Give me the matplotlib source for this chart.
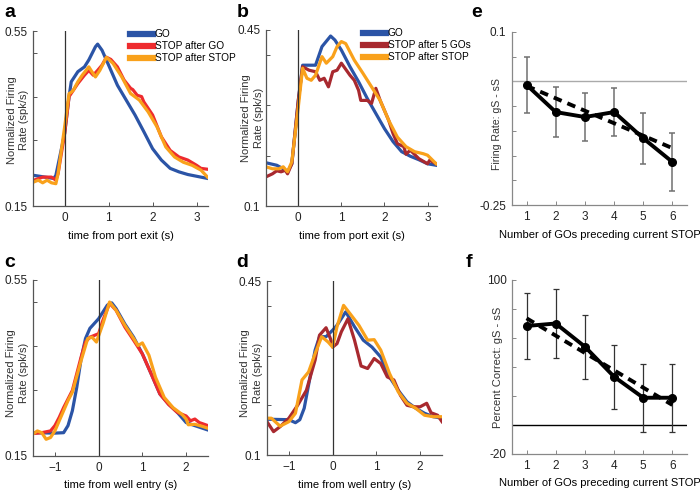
import matplotlib
matplotlib.use("Agg")
import matplotlib.pyplot as plt

plt.rcParams['font.family'] = ['Liberation Sans', 'DejaVu Sans']
plt.rcParams['font.size'] = 8

BLUE = '#2B54A6'
RED = '#EE2B2E'
DRED = '#A8292F'
ORANGE = '#F9A11B'

# ---- panel a: aligned to port exit ----
a_go_t = [-0.7, -0.25, -0.2, 0, 0.1, 0.15, 0.3, 0.45, 0.55, 0.7, 0.75, 0.85, 1.0, 1.2, 1.4, 1.6, 1.8, 2.0, 2.2, 2.4, 2.6, 2.8, 3.0, 3.25]
a_go = [0.22, 0.213, 0.22, 0.316, 0.40, 0.434, 0.457, 0.468, 0.484, 0.514, 0.52, 0.506, 0.472, 0.426, 0.392, 0.358, 0.32, 0.281, 0.255, 0.236, 0.228, 0.222, 0.218, 0.213]
a_sg_t = [-0.7, -0.5, -0.3, -0.2, -0.15, 0, 0.1, 0.2, 0.3, 0.45, 0.55, 0.65, 0.75, 0.85, 0.95, 1.05, 1.2, 1.35, 1.5, 1.55, 1.65, 1.75, 1.8, 2.0, 2.2, 2.4, 2.6, 2.8, 3.0, 3.1, 3.25]
a_sg = [0.209, 0.216, 0.216, 0.209, 0.224, 0.316, 0.40, 0.415, 0.43, 0.449, 0.46, 0.449, 0.46, 0.472, 0.49, 0.485, 0.468, 0.438, 0.419, 0.416, 0.403, 0.40, 0.388, 0.358, 0.308, 0.277, 0.262, 0.255, 0.243, 0.236, 0.234]
a_ss_t = [-0.7, -0.6, -0.5, -0.4, -0.3, -0.2, -0.15, 0, 0.1, 0.15, 0.2, 0.3, 0.4, 0.55, 0.6, 0.7, 0.8, 0.95, 1.1, 1.3, 1.5, 1.7, 1.9, 2.1, 2.3, 2.5, 2.7, 2.9, 3.1, 3.25]
a_ss = [0.205, 0.209, 0.203, 0.209, 0.203, 0.201, 0.224, 0.331, 0.407, 0.41, 0.415, 0.434, 0.449, 0.468, 0.46, 0.445, 0.46, 0.49, 0.476, 0.445, 0.407, 0.392, 0.365, 0.331, 0.285, 0.262, 0.25, 0.243, 0.232, 0.216]

# ---- panel b: aligned to port exit ----
b_go_t = [-0.75, -0.5, -0.35, -0.25, -0.15, 0, 0.1, 0.2, 0.4, 0.55, 0.75, 0.85, 1.0, 1.2, 1.4, 1.6, 1.8, 2.0, 2.2, 2.4, 2.6, 2.8, 3.0, 3.2]
b_go = [0.186, 0.181, 0.174, 0.168, 0.184, 0.31, 0.38, 0.38, 0.38, 0.417, 0.438, 0.43, 0.41, 0.377, 0.347, 0.314, 0.284, 0.254, 0.228, 0.208, 0.199, 0.192, 0.184, 0.181]
b_s5_t = [-0.75, -0.6, -0.5, -0.4, -0.3, -0.25, -0.15, 0, 0.1, 0.25, 0.4, 0.5, 0.6, 0.7, 0.8, 0.9, 1.0, 1.05, 1.2, 1.3, 1.4, 1.45, 1.6, 1.7, 1.8, 1.9, 2.0, 2.1, 2.2, 2.3, 2.45, 2.5, 2.6, 2.8, 3.0, 3.05, 3.2]
b_s5 = [0.158, 0.164, 0.17, 0.168, 0.171, 0.164, 0.184, 0.31, 0.377, 0.37, 0.367, 0.35, 0.354, 0.337, 0.367, 0.37, 0.384, 0.378, 0.36, 0.35, 0.33, 0.31, 0.31, 0.304, 0.334, 0.31, 0.29, 0.27, 0.244, 0.224, 0.218, 0.203, 0.211, 0.194, 0.184, 0.191, 0.184]
b_ss_t = [-0.75, -0.6, -0.45, -0.35, -0.25, -0.15, 0, 0.1, 0.2, 0.3, 0.4, 0.55, 0.65, 0.8, 0.9, 1.0, 1.1, 1.3, 1.5, 1.7, 1.9, 2.1, 2.3, 2.5, 2.7, 2.9, 3.0, 3.2]
b_ss = [0.178, 0.174, 0.174, 0.178, 0.168, 0.188, 0.297, 0.374, 0.354, 0.35, 0.36, 0.397, 0.384, 0.397, 0.417, 0.427, 0.423, 0.39, 0.364, 0.337, 0.31, 0.27, 0.237, 0.218, 0.208, 0.204, 0.201, 0.184]

# ---- panel c: aligned to well entry ----
c_go_t = [-1.5, -1.0, -0.8, -0.7, -0.6, -0.5, -0.4, -0.3, -0.2, 0, 0.2, 0.3, 0.4, 0.6, 0.8, 1.0, 1.2, 1.4, 1.6, 1.8, 2.0, 2.2, 2.5]
c_go = [0.203, 0.202, 0.203, 0.219, 0.253, 0.306, 0.371, 0.417, 0.44, 0.462, 0.493, 0.498, 0.485, 0.45, 0.42, 0.382, 0.337, 0.291, 0.268, 0.249, 0.226, 0.219, 0.209]
c_sg_t = [-1.5, -1.3, -1.1, -1.0, -0.9, -0.8, -0.6, -0.4, -0.3, -0.2, 0, 0.1, 0.25, 0.4, 0.6, 0.8, 1.0, 1.2, 1.4, 1.6, 1.8, 2.0, 2.1, 2.2, 2.3, 2.5]
c_sg = [0.201, 0.203, 0.207, 0.219, 0.238, 0.26, 0.299, 0.375, 0.409, 0.42, 0.428, 0.459, 0.497, 0.481, 0.443, 0.413, 0.382, 0.337, 0.291, 0.267, 0.249, 0.241, 0.23, 0.234, 0.226, 0.219]
c_ss_t = [-1.5, -1.4, -1.3, -1.2, -1.1, -1.0, -0.9, -0.7, -0.6, -0.4, -0.25, -0.15, -0.05, 0.1, 0.25, 0.4, 0.6, 0.8, 0.9, 1.0, 1.15, 1.3, 1.5, 1.7, 1.9, 2.0, 2.05, 2.2, 2.35, 2.5]
c_ss = [0.2, 0.207, 0.203, 0.188, 0.192, 0.207, 0.23, 0.276, 0.295, 0.367, 0.417, 0.42, 0.409, 0.451, 0.5, 0.481, 0.447, 0.417, 0.401, 0.407, 0.379, 0.329, 0.283, 0.26, 0.245, 0.234, 0.221, 0.222, 0.218, 0.213]

# ---- panel d: aligned to well entry ----
d_go_t = [-1.5, -1.0, -0.85, -0.75, -0.65, -0.5, -0.4, -0.3, -0.15, 0, 0.1, 0.3, 0.5, 0.7, 0.9, 1.1, 1.3, 1.5, 1.7, 1.9, 2.1, 2.3, 2.5]
d_go = [0.172, 0.171, 0.165, 0.171, 0.194, 0.264, 0.311, 0.338, 0.338, 0.351, 0.361, 0.388, 0.358, 0.331, 0.317, 0.297, 0.257, 0.23, 0.207, 0.194, 0.184, 0.177, 0.174]
d_s5_t = [-1.5, -1.35, -1.2, -1.0, -0.8, -0.6, -0.4, -0.3, -0.15, -0.05, 0, 0.1, 0.2, 0.35, 0.5, 0.65, 0.8, 0.95, 1.1, 1.25, 1.4, 1.55, 1.7, 1.85, 2.0, 2.15, 2.25, 2.4, 2.5]
d_s5 = [0.167, 0.147, 0.157, 0.174, 0.2, 0.23, 0.291, 0.341, 0.356, 0.334, 0.317, 0.324, 0.348, 0.374, 0.331, 0.279, 0.274, 0.294, 0.284, 0.257, 0.251, 0.22, 0.2, 0.197, 0.197, 0.204, 0.185, 0.18, 0.167]
d_ss_t = [-1.5, -1.4, -1.2, -1.0, -0.85, -0.7, -0.55, -0.4, -0.25, -0.1, 0, 0.1, 0.25, 0.4, 0.6, 0.8, 0.95, 1.1, 1.3, 1.5, 1.7, 1.9, 2.1, 2.3, 2.5]
d_ss = [0.174, 0.174, 0.158, 0.167, 0.184, 0.251, 0.267, 0.304, 0.338, 0.327, 0.317, 0.358, 0.401, 0.384, 0.361, 0.331, 0.332, 0.311, 0.264, 0.227, 0.204, 0.194, 0.18, 0.177, 0.177]

# ---- panels e, f: difference vs number of preceding GOs ----
n_gos = [1, 2, 3, 4, 5, 6]
e_mean = [-0.007, -0.062, -0.072, -0.062, -0.115, -0.163]
e_err = [0.056, 0.05, 0.048, 0.048, 0.052, 0.058]
e_fit_x = [1, 6]
e_fit = [-0.009, -0.135]
f_mean = [68.3, 70.0, 54.0, 33.3, 18.8, 18.8]
f_err = [23.0, 23.5, 22.0, 22.0, 23.5, 23.6]
f_fit_x = [1, 6]
f_fit = [73.6, 13.8]

fig = plt.figure(figsize=(7, 4.93), dpi=100)
W, H = 700.0, 493.0


def box(l, t, r, b):
    return [l / W, 1 - b / H, (r - l) / W, (b - t) / H]


def style(ax, spine_col='#555555'):
    for s in ['top', 'right']:
        ax.spines[s].set_visible(False)
    for s in ['left', 'bottom']:
        ax.spines[s].set_color(spine_col)
        ax.spines[s].set_linewidth(0.9)
    ax.tick_params(direction='in', length=3, width=0.7, colors=spine_col,
                   labelcolor='#222222', labelsize=8.5, pad=4)


def trace_panel(rect, xlim, ylim, yticks, series, xlabel, ylab_pos, leg_x=None):
    ax = fig.add_axes(rect)
    for t, v, c, lab in series:
        ax.plot(t, v, color=c, lw=2.3, label=lab, solid_joinstyle='round')
    ax.axvline(0, color='#333333', lw=0.9)
    ax.set_xlim(xlim)
    ax.set_ylim(ylim)
    ax.set_yticks(yticks)
    ax.set_yticklabels([('%g' % yticks[0])] + [''] * (len(yticks) - 2) + [('%g' % yticks[-1])])
    ax.set_xlabel(xlabel, fontsize=8, labelpad=5)
    ax.set_ylabel('Normalized Firing\nRate (spk/s)', fontsize=8, color='#333333',
                  linespacing=1.35)
    ax.yaxis.set_label_coords(*ylab_pos)
    style(ax)
    if leg_x is not None:
        ax.legend(loc='upper left', bbox_to_anchor=(leg_x, 1.01), frameon=False,
                  fontsize=7.3, handlelength=2.3, handletextpad=0.15,
                  labelspacing=0.2, borderpad=0, borderaxespad=0)
        for h in ax.get_legend().get_lines():
            h.set_linewidth(4.5)
    return ax


ax_a = trace_panel(box(33, 31, 208, 206), (-0.72, 3.26), (0.15, 0.55), [0.15, 0.3, 0.4, 0.5, 0.55],
                   [(a_go_t, a_go, BLUE, 'GO'), (a_sg_t, a_sg, RED, 'STOP after GO'),
                    (a_ss_t, a_ss, ORANGE, 'STOP after STOP')],
                   'time from port exit (s)', (-0.02, 0.49), leg_x=0.555)
ax_b = trace_panel(box(266, 30, 437, 206), (-0.75, 3.22), (0.1, 0.45), [0.1, 0.2, 0.3, 0.4, 0.45],
                   [(b_go_t, b_go, BLUE, 'GO'), (b_s5_t, b_s5, DRED, 'STOP after 5 GOs'),
                    (b_ss_t, b_ss, ORANGE, 'STOP after STOP')],
                   'time from port exit (s)', (-0.01, 0.5), leg_x=0.567)
ax_c = trace_panel(box(33, 280, 208, 456), (-1.5, 2.5), (0.15, 0.55), [0.15, 0.3, 0.4, 0.5, 0.55],
                   [(c_go_t, c_go, BLUE, 'GO'), (c_sg_t, c_sg, RED, 'STOP after GO'),
                    (c_ss_t, c_ss, ORANGE, 'STOP after STOP')],
                   'time from well entry (s)', (-0.025, 0.47))
ax_d = trace_panel(box(267, 281, 442, 455), (-1.5, 2.5), (0.1, 0.45), [0.1, 0.2, 0.3, 0.4, 0.45],
                   [(d_go_t, d_go, BLUE, 'GO'), (d_s5_t, d_s5, DRED, 'STOP after 5 GOs'),
                    (d_ss_t, d_ss, ORANGE, 'STOP after STOP')],
                   'time from well entry (s)', (-0.025, 0.47))
for ax in (ax_a, ax_b):
    ax.set_xticks([0, 1, 2, 3])
for ax in (ax_c, ax_d):
    ax.set_xticks([-1, 0, 1, 2])

# panel e
ax_e = fig.add_axes(box(512, 32, 687, 205))
ax_e.axhline(0, color='#aaaaaa', lw=1)
ax_e.errorbar(n_gos, e_mean, yerr=e_err, color='#707070', lw=0, elinewidth=1.1,
              capsize=2.5, capthick=1.1)
ax_e.plot(e_fit_x, e_fit, color='black', lw=2.8, ls=(0, (2.2, 1.6)))
ax_e.plot(n_gos, e_mean, color='black', lw=2.8, marker='o', ms=5.5)
ax_e.set_xlim(0.5, 6.5)
ax_e.set_ylim(-0.25, 0.1)
ax_e.set_xticks(n_gos)
e_ticks = [-0.25, -0.2, -0.15, -0.1, -0.05, 0, 0.05, 0.1]
ax_e.set_yticks(e_ticks)
ax_e.set_yticklabels(['-0.25'] + [''] * 6 + ['0.1'])
ax_e.set_xlabel('Number of GOs preceding current STOP', fontsize=8, labelpad=5)
ax_e.set_ylabel('Firing Rate: gS - sS', fontsize=7.6, color='#333333')
ax_e.yaxis.set_label_coords(-0.057, 0.47)
style(ax_e, '#888888')

# panel f
ax_f = fig.add_axes(box(512, 280, 687, 454))
ax_f.axhline(0, color='black', lw=1)
ax_f.errorbar(n_gos, f_mean, yerr=f_err, color='#333333', lw=0, elinewidth=0.9,
              capsize=2.5, capthick=0.9)
ax_f.plot(f_fit_x, f_fit, color='black', lw=2.8, ls=(0, (2.2, 1.6)))
ax_f.plot(n_gos, f_mean, color='black', lw=2.8, marker='o', ms=5.5)
ax_f.set_xlim(0.5, 6.5)
ax_f.set_ylim(-20, 100)
ax_f.set_xticks(n_gos)
f_ticks = [-20, 0, 20, 40, 60, 80, 100]
ax_f.set_yticks(f_ticks)
ax_f.set_yticklabels(['-20'] + [''] * 5 + ['100'])
ax_f.set_xlabel('Number of GOs preceding current STOP', fontsize=8, labelpad=5)
ax_f.set_ylabel('Percent Correct: gS - sS', fontsize=8, color='#333333')
ax_f.yaxis.set_label_coords(-0.05, 0.5)
style(ax_f, '#888888')

# panel letters
for lab, x, y in [('a', 4, 4), ('b', 237, 4), ('e', 471, 4),
                  ('c', 4, 254), ('d', 236, 254), ('f', 466, 254)]:
    fig.text(x / W, 1 - y / H, lab, fontsize=14, fontweight='bold', va='top', ha='left')

fig.savefig('out.png', dpi=100)
